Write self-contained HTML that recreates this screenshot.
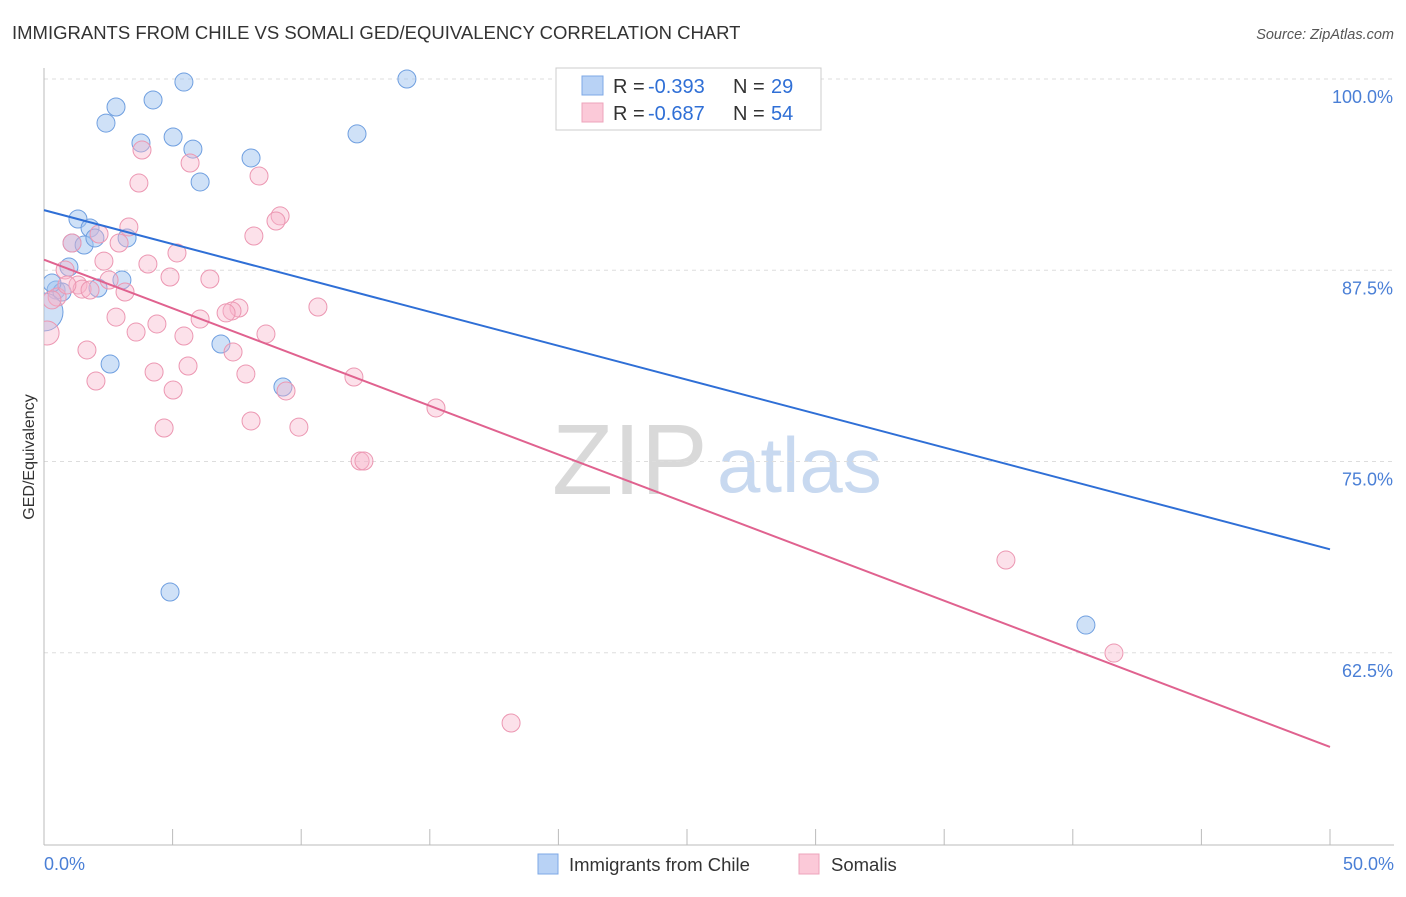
<!DOCTYPE html>
<html><head><meta charset="utf-8"><style>
body{margin:0;background:#fff;font-family:"Liberation Sans",sans-serif;}
svg text{font-family:"Liberation Sans",sans-serif;}
</style></head><body>
<svg id="chart" width="1406" height="892" xmlns="http://www.w3.org/2000/svg">
<defs><clipPath id="plotclip"><rect x="44" y="60" width="1362" height="786"/></clipPath></defs>
<text x="12" y="39" font-size="18.5" fill="#333">IMMIGRANTS FROM CHILE VS SOMALI GED/EQUIVALENCY CORRELATION CHART</text>
<text x="1394" y="39" font-size="14.5" fill="#555" font-style="italic" text-anchor="end">Source: ZipAtlas.com</text>
<g>
<text x="552" y="494" font-size="100" fill="#d9d9d9" font-family="Liberation Serif">ZIP</text>
<text x="717" y="492" font-size="78" fill="#c8d9f0">atlas</text>
</g>
<g id="grid"></g>
<g id="axes"></g>
<g id="marks" clip-path="url(#plotclip)"></g>
<g id="lines"></g>
<text transform="translate(34,457) rotate(-90)" font-size="16" fill="#333" text-anchor="middle">GED/Equivalency</text>
<g>
<rect x="556" y="68" width="265" height="62" fill="#fff" stroke="#ccc"/>
<rect x="582" y="76" width="21" height="19" fill="#b8d2f5" stroke="#7ea8e6"/>
<rect x="582" y="103" width="21" height="19" fill="#fbc9d8" stroke="#eea4bb"/>
<text y="93" font-size="20" fill="#333"><tspan x="613">R = </tspan><tspan x="648" fill="#2f6fd6">-0.393</tspan><tspan x="733">N = </tspan><tspan x="771" fill="#2f6fd6">29</tspan></text>
<text y="120" font-size="20" fill="#333"><tspan x="613">R = </tspan><tspan x="648" fill="#2f6fd6">-0.687</tspan><tspan x="733">N = </tspan><tspan x="771" fill="#2f6fd6">54</tspan></text>
</g>
<g>
<rect x="538" y="854" width="20" height="20" fill="#b8d2f5" stroke="#7ea8e6"/>
<text x="569" y="871" font-size="18.5" fill="#333">Immigrants from Chile</text>
<rect x="799" y="854" width="20" height="20" fill="#fbc9d8" stroke="#eea4bb"/>
<text x="831" y="871" font-size="18.5" fill="#333">Somalis</text>
</g>
</svg>
<script>
const chileX=[5.44,14.11,2.80,4.24,2.41,3.77,5.02,5.79,8.05,12.17,6.07,1.32,1.79,1.09,1.56,1.98,3.23,0.97,3.03,0.47,0.70,2.10,0.31,6.88,2.57,9.29,4.90,40.51,0];
const chileY=[99.8,100,98.17,98.63,97.12,95.82,96.21,95.42,94.84,96.41,93.27,90.85,90.26,89.28,89.15,89.61,89.61,87.71,86.86,86.21,86.08,86.34,86.67,82.68,81.37,79.87,66.47,64.31,84.77];
const somaliX=[3.81,5.68,3.69,8.36,9.18,9.02,3.30,2.14,8.16,1.09,2.92,5.17,2.33,4.04,0.82,4.90,6.45,2.53,1.32,1.48,3.15,0.51,0.89,10.65,7.58,7.31,7.08,6.07,2.80,4.39,3.58,5.44,8.63,0.12,1.67,7.35,5.60,4.28,7.85,2.02,12.05,5.02,9.41,15.24,4.67,8.05,9.91,12.29,12.44,37.40,41.60,18.16,0.31,1.79];
const somaliY=[95.36,94.51,93.20,93.66,91.05,90.72,90.33,89.87,89.74,89.28,89.28,88.63,88.10,87.91,87.52,87.06,86.93,86.86,86.54,86.27,86.08,85.75,86.54,85.10,85.03,84.84,84.71,84.31,84.44,83.99,83.46,83.20,83.33,83.40,82.29,82.16,81.24,80.85,80.72,80.26,80.52,79.67,79.61,78.50,77.19,77.65,77.25,75.03,75.03,68.56,62.48,57.91,85.56,86.21];
const yTicks=[100,87.5,75,62.5];
const yTickLabels=["100.0%","87.5%","75.0%","62.5%"];
const xTickLabels=["0.0%","50.0%"];
const NS="http://www.w3.org/2000/svg";
const X=v=>44+v/50*1286;
const Y=v=>79+(100-v)*15.3;
function mk(tag,attrs,parent){const e=document.createElementNS(NS,tag);for(const k in attrs)e.setAttribute(k,attrs[k]);parent.appendChild(e);return e;}
const grid=document.getElementById('grid'),axes=document.getElementById('axes'),marks=document.getElementById('marks'),lines=document.getElementById('lines');
yTicks.forEach((t,i)=>{
 const g=mk('line',{x1:44,x2:1394,y1:Y(t),y2:Y(t),stroke:'#ddd','stroke-dasharray':'4,4'},grid);
 
 
 const l=mk('text',{x:1393,y:Y(t)+24,'font-size':18,fill:'#4a7fd6','text-anchor':'end'},axes);
 l.textContent=yTickLabels[i];
 
 
});
const ax=mk('line',{x1:44,x2:44,y1:68,y2:845,stroke:'#bbb'},axes);


const bx=mk('line',{x1:44,x2:1394,y1:845,y2:845,stroke:'#bbb'},axes);


for(let i=0;i<=10;i++){
 const tk=mk('line',{x1:X(i*5),x2:X(i*5),y1:829,y2:845,stroke:'#bbb'},axes);
 
 
}
[[0,'start',44],[1,'end',1394]].forEach(([i,a,x])=>{
 const t=mk('text',{x:x,y:870,'font-size':18,fill:'#4a7fd6','text-anchor':a},axes);
 t.textContent=xTickLabels[i];
 
 
});
function dots(xs,ys,fill,stroke,name){
 xs.forEach((x,i)=>{
  const big=(x<0.2);
  const c=mk('circle',{cx:X(x),cy:Y(ys[i]),r:big?(name==='chile-point'?19:12):9,fill:fill,stroke:stroke,'stroke-width':1},marks);
  
  
 });
}
dots(chileX,chileY,'rgba(160,195,240,0.5)','#6f9fe0','chile-point');
dots(somaliX,somaliY,'rgba(247,180,202,0.4)','#ec97b2','somali-point');
function fit(xs,ys){const n=xs.length;let sx=0,sy=0,sxx=0,sxy=0;for(let i=0;i<n;i++){sx+=xs[i];sy+=ys[i];sxx+=xs[i]*xs[i];sxy+=xs[i]*ys[i];}const b=(n*sxy-sx*sy)/(n*sxx-sx*sx);return [(sy-b*sx)/n,b];}
function trend(xs,ys,col,name){const [a,b]=fit(xs,ys);const l=mk('line',{x1:X(0),y1:Y(a),x2:X(50),y2:Y(a+b*50),stroke:col,'stroke-width':2},lines);}
trend(chileX,chileY,'#2f6fd6','chile-trend-line');
trend(somaliX,somaliY,'#e0628f','somali-trend-line');
</script>
</body></html>
